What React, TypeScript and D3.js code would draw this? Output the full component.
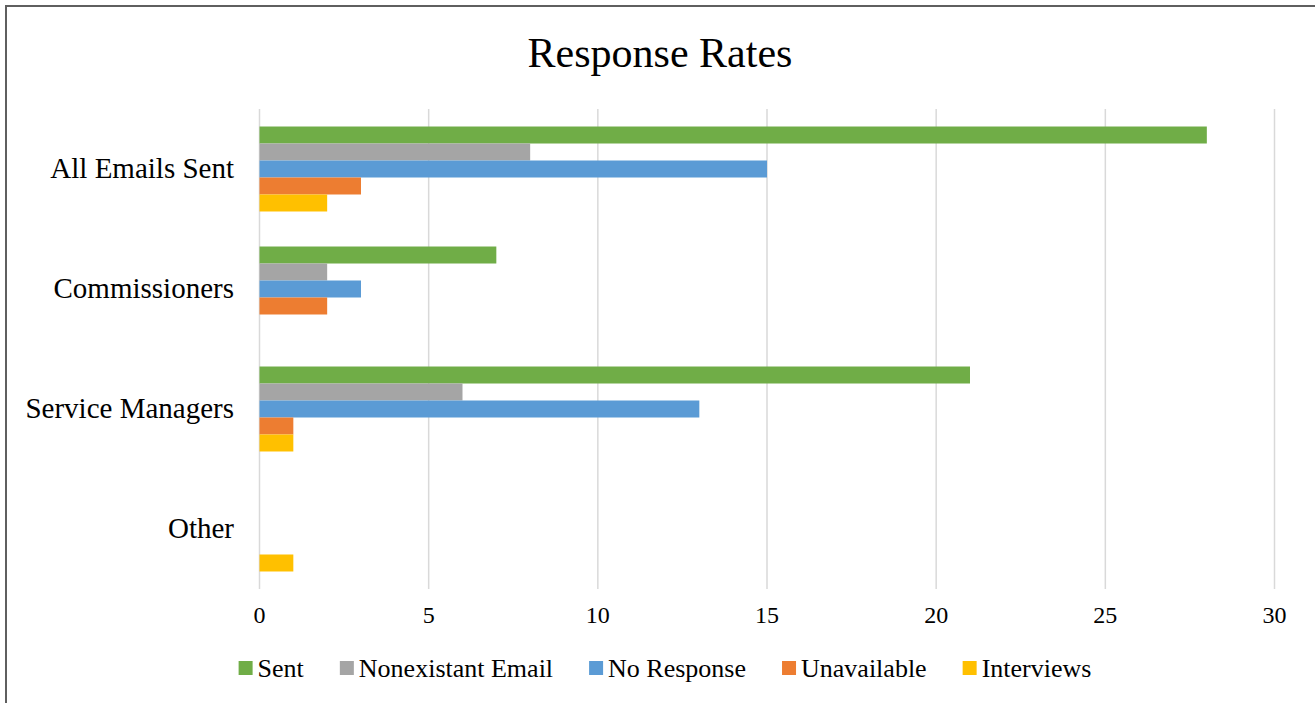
import React, { useEffect, useRef } from "react";
import * as d3 from "d3";

const categories = ["All Emails Sent", "Commissioners", "Service Managers", "Other"];
const seriesNames = ["Sent", "Nonexistant Email", "No Response", "Unavailable", "Interviews"];
const sent = [28, 7, 21, 0];
const nonexistant = [8, 2, 6, 0];
const noResponse = [15, 3, 13, 0];
const unavailable = [3, 2, 1, 0];
const interviews = [2, 0, 1, 1];
const colors = ["#70AD47", "#A5A5A5", "#5B9BD5", "#ED7D31", "#FFC000"];
const xTicks = [0, 5, 10, 15, 20, 25, 30];

const W = 1315;
const H = 703;
const FONT = "'Liberation Serif', 'Times New Roman', serif";

export default function App() {
  const ref = useRef<SVGSVGElement>(null);

  useEffect(() => {
    const svg = d3.select(ref.current);
    svg.selectAll("*").remove();
    const series = [sent, nonexistant, noResponse, unavailable, interviews];

    svg.append("rect").attr("width", W).attr("height", H).attr("fill", "#fff");
    svg.append("rect")
      .attr("x", 6).attr("y", 6).attr("width", W + 20).attr("height", H + 20)
      .attr("fill", "none").attr("stroke", "#5f5f5f").attr("stroke-width", 2);

    const x = d3.scaleLinear().domain([0, 30]).range([259.5, 1274.5]);
    const y = d3.scaleBand<string>().domain(categories).range([109, 589]).paddingInner(0).paddingOuter(0);
    const inner = d3.scaleBand<number>().domain(d3.range(series.length)).range([0, y.bandwidth()]).paddingOuter(1.03).paddingInner(0);

    // gridlines
    svg.append("g").selectAll("line").data(xTicks).join("line")
      .attr("x1", d => x(d)).attr("x2", d => x(d))
      .attr("y1", 109).attr("y2", 589)
      .attr("stroke", "#d9d9d9").attr("stroke-width", 1.5);

    // bars
    series.forEach((vals, si) => {
      svg.append("g").selectAll("rect").data(vals.map((v, i) => ({ v, c: categories[i] }))).join("rect")
        .filter(d => d.v > 0)
        .attr("x", x(0))
        .attr("y", d => (y(d.c) as number) + (inner(si) as number))
        .attr("width", d => x(d.v) - x(0))
        .attr("height", inner.bandwidth())
        .attr("fill", colors[si]);
    });

    // x tick labels
    svg.append("g").selectAll("text").data(xTicks).join("text")
      .attr("x", d => x(d)).attr("y", 623)
      .attr("text-anchor", "middle")
      .attr("font-family", FONT).attr("font-size", 24).attr("fill", "#000")
      .text(d => String(d));

    // category labels
    svg.append("g").selectAll("text").data(categories).join("text")
      .attr("x", 234)
      .attr("y", d => (y(d) as number) + y.bandwidth() / 2 + 9)
      .attr("text-anchor", "end")
      .attr("font-family", FONT).attr("font-size", 29).attr("fill", "#000")
      .text(d => d);

    // title
    svg.append("text")
      .attr("x", 660).attr("y", 67)
      .attr("text-anchor", "middle")
      .attr("font-family", FONT).attr("font-size", 42).attr("fill", "#000")
      .text("Response Rates");

    // legend
    const lg = svg.append("g");
    const items = seriesNames.map((name, i) => {
      const g = lg.append("g");
      g.append("rect").attr("x", 0).attr("y", 661).attr("width", 14).attr("height", 14).attr("fill", colors[i]);
      const t = g.append("text").attr("x", 19).attr("y", 677)
        .attr("font-family", FONT).attr("font-size", 26).attr("fill", "#000").text(name);
      const w = (t.node() as SVGTextElement).getComputedTextLength();
      return { g, w: 19 + w };
    });
    const gap = 36;
    const total = d3.sum(items, d => d.w) + gap * (items.length - 1);
    let cx = 665 - total / 2;
    items.forEach(it => {
      it.g.attr("transform", `translate(${cx},0)`);
      cx += it.w + gap;
    });
  }, []);

  return (
    <svg ref={ref} width={W} height={H}
      style={{ position: "fixed", left: 0, top: 0, display: "block" }} />
  );
}
